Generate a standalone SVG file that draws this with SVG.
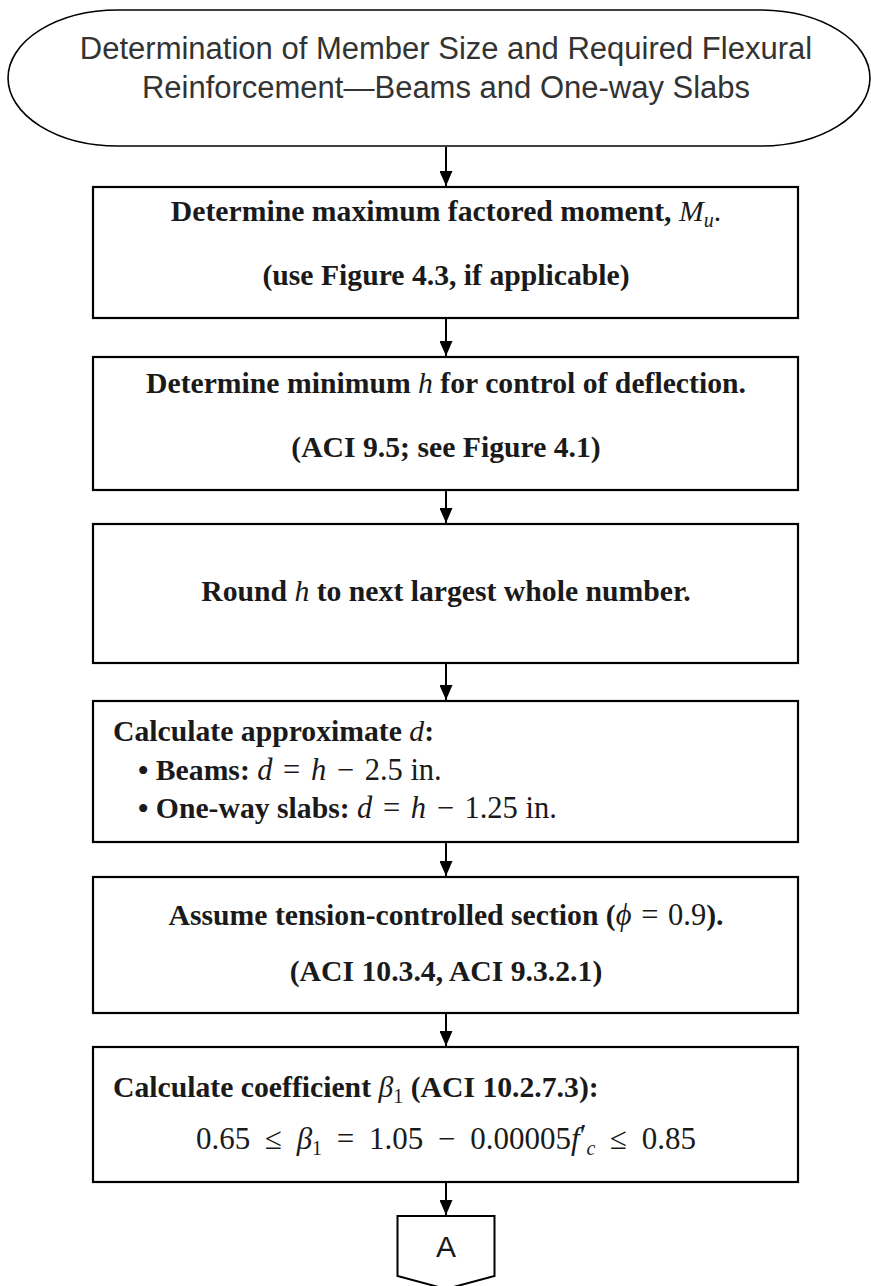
<svg xmlns="http://www.w3.org/2000/svg" width="871" height="1286" viewBox="0 0 871 1286">
<style>
.box{fill:#fff;stroke:#000;stroke-width:2.2}
.t{font-family:"Liberation Serif","DejaVu Serif",serif;font-weight:bold;font-size:29.7px;fill:#1a1a1a}
.m{font-weight:normal}
.i{font-style:italic;font-weight:normal}
.s{font-size:20px;font-weight:normal}
.eq{font-weight:normal;font-size:30.5px}
.term{font-family:"Liberation Sans",Arial,sans-serif;font-size:31px;fill:#333}
.conn line{stroke:#000;stroke-width:2}
</style>
<defs>
<marker id="ah" markerUnits="userSpaceOnUse" markerWidth="15" markerHeight="13" viewBox="0 0 15 13" refX="15" refY="6.5" orient="auto">
<path d="M0,0 L15,6.5 L0,13 Z" fill="#000"/>
</marker>
</defs>
<g id="start">
<path d="M118,10 H760 A110,68 0 0 1 760,146 H118 A110,68 0 0 1 118,10 Z" fill="#fff" stroke="#000" stroke-width="1.6"/>
<text class="term" x="446" y="59" text-anchor="middle">Determination of Member Size and Required Flexural</text>
<text class="term" x="446" y="98" text-anchor="middle">Reinforcement—Beams and One-way Slabs</text>
</g>
<g id="n1">
<rect class="box" x="93" y="187" width="705" height="131"/>
<text class="t" x="446" y="221" text-anchor="middle">Determine maximum factored moment, <tspan class="i">M</tspan><tspan class="i s" dy="6">u</tspan><tspan class="m" dy="-6">.</tspan></text>
<text class="t" x="446" y="285" text-anchor="middle">(use Figure 4.3, if applicable)</text>
</g>
<g id="n2">
<rect class="box" x="93" y="357" width="705" height="133"/>
<text class="t" x="446" y="393" text-anchor="middle">Determine minimum <tspan class="i">h</tspan> for control of deflection.</text>
<text class="t" x="446" y="457" text-anchor="middle">(ACI 9.5; see Figure 4.1)</text>
</g>
<g id="n3">
<rect class="box" x="93" y="524" width="705" height="139"/>
<text class="t" x="446" y="601" text-anchor="middle">Round <tspan class="i">h</tspan> to next largest whole number.</text>
</g>
<g id="n4">
<rect class="box" x="93" y="701" width="705" height="141"/>
<text class="t" x="113" y="741">Calculate approximate <tspan class="i">d</tspan>:</text>
<text class="t" x="138" y="780">• Beams: <tspan class="eq"><tspan class="i">d</tspan><tspan dx="3"> = </tspan><tspan class="i" dx="3">h</tspan><tspan dx="3"> − </tspan><tspan dx="3">2.5 in.</tspan></tspan></text>
<text class="t" x="138" y="818">• One-way slabs: <tspan class="eq"><tspan class="i">d</tspan><tspan dx="3"> = </tspan><tspan class="i" dx="3">h</tspan><tspan dx="3"> − </tspan><tspan dx="3">1.25 in.</tspan></tspan></text>
</g>
<g id="n5">
<rect class="box" x="93" y="877" width="705" height="136"/>
<text class="t" x="446" y="925" text-anchor="middle">Assume tension-controlled section (<tspan class="eq"><tspan class="i">ϕ</tspan><tspan dx="2"> = </tspan><tspan dx="2">0.9</tspan></tspan>).</text>
<text class="t" x="446" y="981" text-anchor="middle">(ACI 10.3.4, ACI 9.3.2.1)</text>
</g>
<g id="n6">
<rect class="box" x="93" y="1047" width="705" height="135"/>
<text class="t" x="113" y="1097">Calculate coefficient <tspan class="i">β</tspan><tspan class="s" dy="6">1</tspan><tspan dy="-6"> (ACI 10.2.7.3):</tspan></text>
<text class="t eq" x="446" y="1149" text-anchor="middle" style="font-size:31px;word-spacing:7px">0.65 ≤ <tspan class="i">β</tspan><tspan class="s" dy="6">1</tspan><tspan dy="-6"> = 1.05 − 0.00005</tspan><tspan class="i">f</tspan><tspan dy="-3">′</tspan><tspan class="i s" dy="9">c</tspan><tspan dy="-6"> ≤ 0.85</tspan></text>
</g>
<g id="offpage-A">
<path d="M397.5,1216 H494.5 V1276 L446,1289 L397.5,1276 Z" fill="#fff" stroke="#000" stroke-width="2"/>
<text x="446" y="1257" text-anchor="middle" font-family="Liberation Sans,Arial,sans-serif" font-size="30" fill="#1a1a1a">A</text>
</g>
<g id="connectors" class="conn">
<line x1="446" y1="147" x2="446" y2="186" marker-end="url(#ah)"/>
<line x1="446" y1="318" x2="446" y2="356" marker-end="url(#ah)"/>
<line x1="446" y1="490" x2="446" y2="523" marker-end="url(#ah)"/>
<line x1="446" y1="663" x2="446" y2="700" marker-end="url(#ah)"/>
<line x1="446" y1="842" x2="446" y2="876" marker-end="url(#ah)"/>
<line x1="446" y1="1013" x2="446" y2="1046" marker-end="url(#ah)"/>
<line x1="446" y1="1182" x2="446" y2="1215" marker-end="url(#ah)"/>
</g>
</svg>
